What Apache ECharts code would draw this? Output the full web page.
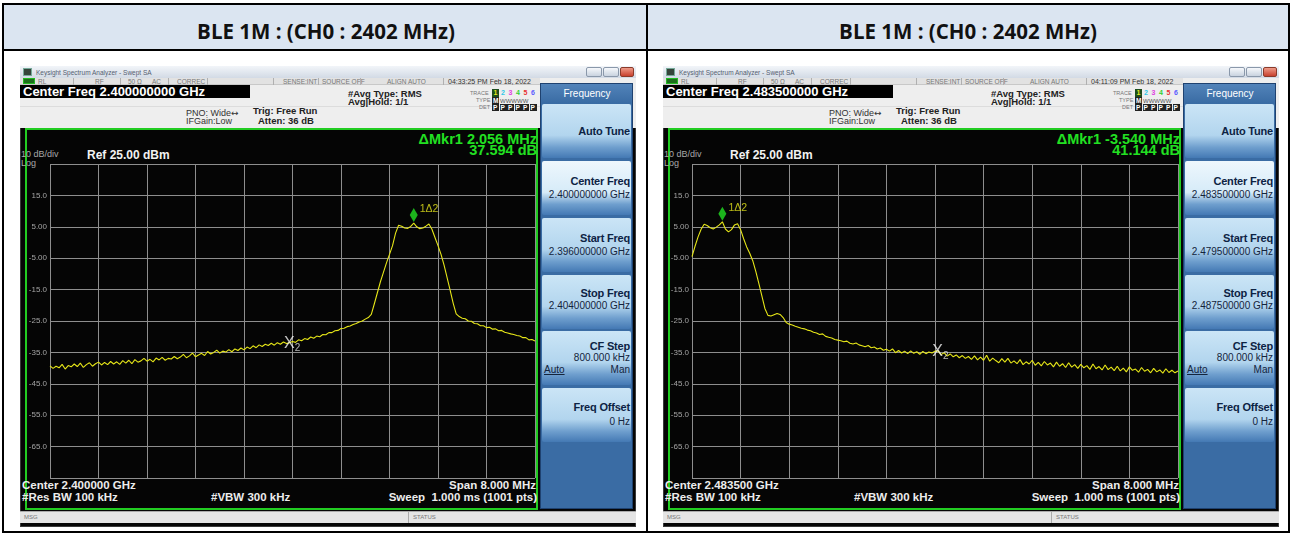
<!DOCTYPE html>
<html>
<head>
<meta charset="utf-8">
<title>BLE 1M spectrum</title>
<script src="https://cdn.jsdelivr.net/npm/echarts@6.0.0/dist/echarts.min.js"></script>
<style>
html,body{margin:0;padding:0}
body{width:1293px;height:536px;background:#fff;overflow:hidden;position:relative;font-family:"Liberation Sans",Arial,sans-serif}
#chart{position:absolute;left:0;top:0;width:1293px;height:536px;z-index:5}
#chrome div{position:absolute;box-sizing:border-box}
</style>
</head>
<body>
<div id="chrome"></div>
<div id="chart"></div>
<script>
// ---------------- data ----------------
const headerTitles = ['BLE 1M : (CH0 : 2402 MHz)', 'BLE 1M : (CH0 : 2402 MHz)'];
const centerFreqText = ['2.400000000 GHz', '2.483500000 GHz'];
const startFreqText = ['2.396000000 GHz', '2.479500000 GHz'];
const stopFreqText = ['2.404000000 GHz', '2.487500000 GHz'];
const centerShortText = ['Center 2.400000 GHz', 'Center 2.483500 GHz'];
const timeText = ['04:33:25 PM Feb 18, 2022', '04:11:09 PM Feb 18, 2022'];
const deltaFreqText = ['\u0394Mkr1 2.056 MHz', '\u0394Mkr1 -3.540 MHz'];
const deltaLevelText = ['37.594 dB', '41.144 dB'];
const spanMHz = 8;            // span of each display
const divMHz = 0.8;           // MHz per horizontal division
const pointStepMHz = 0.05;    // spacing of the trace points below
const refLevel = 25;          // dBm, top of display
const bottomLevel = -75;      // dBm, bottom of display
const yTickValues = [15, 5, -5, -15, -25, -35, -45, -55, -65];
const yTickLabels = ['15.0', '5.00', '-5.00', '-15.0', '-25.0', '-35.0', '-45.0', '-55.0', '-65.0'];
// trace levels (dBm), one every 0.05 MHz from the start frequency
const traceLeft = [
 -39.3,-40.1,-39.4,-39.9,-38.8,-40.3,-39.2,-39.6,-38.7,-39.5,
 -38.4,-39.8,-38.9,-38.3,-39.4,-38.6,-38.1,-39.0,-38.2,-38.9,
 -37.9,-38.7,-38.0,-38.8,-37.6,-38.4,-37.5,-38.6,-37.3,-38.1,
 -37.7,-36.9,-37.8,-37.2,-38.0,-36.8,-37.4,-36.6,-37.5,-36.9,
 -37.1,-36.3,-37.0,-36.5,-35.6,-36.7,-36.1,-35.2,-36.4,-35.8,
 -35.3,-36.0,-34.7,-35.5,-35.0,-34.3,-35.2,-34.6,-34.9,-34.1,
 -34.8,-33.9,-34.4,-33.6,-34.2,-33.3,-33.8,-32.9,-33.5,-32.6,
 -33.1,-32.4,-32.8,-32.1,-32.7,-31.9,-32.4,-31.7,-32.2,-31.9,
 -31.5,-31.8,-31.0,-31.3,-30.6,-30.9,-30.1,-30.5,-29.8,-30.0,
 -29.3,-29.4,-28.7,-28.7,-28.1,-28.0,-27.4,-27.3,-26.8,-26.6,
 -26.1,-25.8,-25.3,-25.0,-24.4,-23.9,-22.9,-19.5,-16.0,-12.5,
 -9.5,-6.5,-3.8,-1.0,3.0,5.5,5.2,4.6,4.5,5.1,
 6.2,5.0,4.4,4.6,5.2,5.9,4.2,1.6,-1.0,-3.8,
 -7.2,-11.2,-15.2,-19.3,-22.7,-23.6,-24.1,-24.3,-25.0,-25.1,
 -25.8,-25.9,-26.5,-26.5,-27.1,-27.0,-27.6,-27.5,-28.1,-28.0,
 -28.6,-28.8,-29.1,-29.3,-29.6,-29.8,-30.3,-30.3,-31.0,-30.9,
 -31.4
];
const traceRight = [
 -4.5,-1.2,1.8,4.2,5.8,5.4,4.7,4.3,4.9,5.6,
 6.6,4.3,3.4,4.1,5.6,6.0,4.1,1.2,-1.4,-3.4,
 -5.8,-9.2,-13.0,-17.0,-21.0,-23.2,-23.4,-23.0,-22.6,-22.9,
 -23.9,-25.5,-26.0,-26.3,-26.7,-27.0,-27.3,-27.5,-27.9,-28.1,
 -28.6,-28.8,-29.3,-29.1,-29.9,-30.2,-30.4,-30.9,-31.1,-31.3,
 -31.6,-31.4,-32.1,-32.3,-32.0,-32.6,-32.9,-33.2,-32.8,-33.5,
 -33.3,-33.9,-33.6,-34.3,-34.0,-34.6,-33.9,-35.1,-34.4,-35.2,
 -34.6,-35.4,-34.5,-35.3,-34.8,-35.6,-34.7,-35.4,-34.9,-35.2,
 -34.6,-34.5,-35.7,-35.1,-36.2,-35.5,-36.4,-35.8,-36.7,-36.0,
 -36.9,-36.3,-37.2,-36.1,-37.4,-36.5,-37.5,-35.9,-37.8,-36.8,
 -37.6,-38.3,-37.0,-38.1,-36.9,-38.4,-37.7,-38.6,-37.3,-38.9,
 -38.0,-38.7,-37.5,-39.1,-38.2,-39.3,-37.9,-39.0,-38.4,-39.6,
 -38.1,-39.4,-38.6,-39.8,-38.3,-39.7,-38.9,-40.1,-38.8,-39.9,
 -39.2,-40.4,-38.7,-40.2,-39.5,-40.6,-39.0,-40.5,-39.7,-40.8,
 -39.4,-40.9,-40.0,-41.2,-39.6,-40.7,-40.3,-41.3,-39.8,-41.0,
 -40.4,-41.5,-40.1,-41.2,-40.6,-41.6,-40.2,-41.4,-40.7,-41.5,
 -40.9
];
// markers: [MHz from start frequency, dBm]
const marker1Left = [6.0, 6.2];
const marker2Left = [3.944, -31.9];
const marker1Right = [0.5, 6.6];
const marker2Right = [4.04, -34.5];

// ---------------- page chrome ----------------
const root = document.getElementById('chrome');
function box(css) { const d = document.createElement('div'); d.style.cssText = css; root.appendChild(d); return d; }
function text(x, cy, s, size, css, align) {
  const tr = align === 'r' ? 'transform:translateX(-100%);' : align === 'c' ? 'transform:translateX(-50%);' : '';
  const d = box('left:' + x + 'px;top:' + (cy - size) + 'px;height:' + (size * 2) + 'px;line-height:' + (size * 2) + 'px;font-size:' + size + 'px;white-space:nowrap;' + tr + (css || ''));
  d.textContent = s; return d;
}

// table
box('left:2px;top:3px;width:1288px;height:47px;background:#dbe5f1');
box('left:2px;top:3px;width:1288px;height:530px;border:2px solid #000');
box('left:2px;top:49px;width:1288px;height:2px;background:#000');
box('left:646px;top:3px;width:2px;height:530px;background:#000');
text(326, 31, headerTitles[0], 20.5, 'font-family:"Open Sans";font-weight:700;color:#111', 'c');
text(968, 31, headerTitles[1], 20.5, 'font-family:"Open Sans";font-weight:700;color:#111', 'c');

const screenX = [20, 663];
const traceColors = ['#e8e820', '#30c8e8', '#e040e0', '#30d030', '#e83030', '#5a5aff'];

function screen(k) {
  const x0 = screenX[k];
  box('left:' + x0 + 'px;top:66px;width:616px;height:461px;background:#050505;border:1px solid #3a3a3a');
  // window title bar
  box('left:' + x0 + 'px;top:66px;width:616px;height:12px;background:linear-gradient(#f2f5f9,#d2dae5)');
  box('left:' + (x0 + 3) + 'px;top:68px;width:9px;height:8px;background:#34453a;border:1px solid #7a9');
  text(x0 + 16, 72, 'Keysight Spectrum Analyzer - Swept SA', 6.5, 'color:#556070');
  box('left:' + (x0 + 566) + 'px;top:67px;width:16px;height:10px;background:linear-gradient(#f6f8fb,#c9d3df);border:1px solid #8a98aa;border-radius:2px');
  box('left:' + (x0 + 583) + 'px;top:67px;width:16px;height:10px;background:linear-gradient(#f6f8fb,#c9d3df);border:1px solid #8a98aa;border-radius:2px');
  box('left:' + (x0 + 600) + 'px;top:67px;width:14px;height:10px;background:linear-gradient(#ee9a88,#c8412e);border:1px solid #8a3a2a;border-radius:2px');
  // status row + info area
  box('left:' + x0 + 'px;top:78px;width:616px;height:50px;background:#eeeeee');
  box('left:' + x0 + 'px;top:78px;width:520px;height:7px;background:#e2e2e2;border-bottom:1px solid #c8c8c8');
  box('left:' + (x0 + 3) + 'px;top:78px;width:12px;height:6px;background:#1c6e1c;border:1px solid #2b2');
  const st = [[18, 'RL'], [75, 'RF'], [108, '50 \u03a9'], [132, 'AC'], [157, 'CORREC'], [263, 'SENSE:INT'], [302, 'SOURCE OFF'], [367, 'ALIGN AUTO']];
  st.forEach(s => text(x0 + s[0], 81.5, s[1], 6.5, 'color:#777'));
  [53, 100, 148, 187, 253, 298, 340, 423].forEach(sx => box('left:' + (x0 + sx) + 'px;top:78px;width:1px;height:7px;background:#b0b0b0'));
  text(x0 + 428, 81.5, timeText[k], 7, 'color:#333');
  // centre-frequency box
  box('left:' + x0 + 'px;top:85px;width:230px;height:13px;background:#000');
  text(x0 + 3, 91.5, 'Center Freq ' + centerFreqText[k], 13, 'color:#fff;font-weight:700');
  box('left:' + x0 + 'px;top:106px;width:520px;height:1px;background:#dcdcdc');
  text(x0 + 166, 112.5, 'PNO: Wide', 9, 'color:#333');
  text(x0 + 211, 112.5, '\u2194', 9, 'color:#333;font-family:"DejaVu Sans"');
  text(x0 + 166, 121, 'IFGain:Low', 9, 'color:#333');
  text(x0 + 233, 110, 'Trig: Free Run', 9.5, 'color:#222;font-weight:700');
  text(x0 + 238, 120, 'Atten: 36 dB', 9.5, 'color:#222;font-weight:700');
  text(x0 + 328, 93, '#Avg Type: RMS', 9.5, 'color:#222;font-weight:700');
  text(x0 + 328, 101, 'Avg|Hold: 1/1', 9.5, 'color:#222;font-weight:700');
  text(x0 + 450, 93, 'TRACE', 5.5, 'color:#777');
  text(x0 + 456, 100.5, 'TYPE', 5.5, 'color:#777');
  text(x0 + 459, 107.5, 'DET', 5.5, 'color:#777');
  for (let i = 0; i < 6; i++) {
    const bx = x0 + 472 + i * 7.5;
    if (i === 0) box('left:' + bx + 'px;top:89px;width:7px;height:8px;background:#1d4d1d');
    text(bx + 1.5, 93, String(i + 1), 7, 'font-weight:700;color:' + traceColors[i]);
    box('left:' + bx + 'px;top:104px;width:7px;height:7px;background:#222');
    text(bx + 1, 107.5, 'P', 6.5, 'font-weight:700;color:#fff');
  }
  box('left:' + (x0 + 472) + 'px;top:97px;width:7px;height:7px;background:#222');
  text(x0 + 473, 100.5, 'M', 6.5, 'font-weight:700;color:#fff');
  text(x0 + 480, 100.5, 'WWWWW', 6, 'color:#555');
  // graticule frame
  box('left:' + (x0 + 5) + 'px;top:128px;width:513px;height:382px;border:2px solid #22cc22');
  text(x0 + 517, 139.5, deltaFreqText[k], 14.5, 'color:#22e022;font-weight:700', 'r');
  text(x0 + 517, 150, deltaLevelText[k], 14.5, 'color:#22e022;font-weight:700', 'r');
  text(x0 + 1, 154, '10 dB/div', 9, 'color:#a8a8a8');
  text(x0 + 1, 162.5, 'Log', 9, 'color:#a8a8a8');
  text(x0 + 67, 154.5, 'Ref 25.00 dBm', 12, 'color:#f2f2f2;font-weight:700');
  text(x0 + 2, 485, centerShortText[k], 11.5, 'color:#ececec;font-weight:700');
  text(x0 + 2, 497, '#Res BW 100 kHz', 11.5, 'color:#ececec;font-weight:700');
  text(x0 + 191, 497, '#VBW 300 kHz', 11.5, 'color:#ececec;font-weight:700');
  text(x0 + 516, 485, 'Span 8.000 MHz', 11.5, 'color:#ececec;font-weight:700', 'r');
  text(x0 + 517, 497, 'Sweep  1.000 ms (1001 pts)', 11.5, 'color:#ececec;font-weight:700;white-space:pre', 'r');
  // message bar
  box('left:' + x0 + 'px;top:511px;width:616px;height:12px;background:#e4e4e4;border-top:1px solid #aaa');
  text(x0 + 4, 517, 'MSG', 6, 'color:#777');
  box('left:' + (x0 + 388) + 'px;top:512px;width:1px;height:11px;background:#aaa');
  text(x0 + 393, 517, 'STATUS', 6, 'color:#777');
  // soft keys
  const px = x0 + 520;
  box('left:' + px + 'px;top:83px;width:93px;height:426px;background:#3a6ca4;border:1px solid #1f4270');
  box('left:' + (px + 1) + 'px;top:84px;width:91px;height:19px;background:linear-gradient(#5283b9,#3a6ca4)');
  text(px + 47, 93.5, 'Frequency', 10, 'color:#fff', 'c');
  const tops = [104, 161, 218, 275, 331, 388];
  tops.forEach((t, i) => {
    const bg = i === 1 ? '#eef7fd,#d6ebf8 58%' : '#cbe5f6,#b2d5ee 58%';
    box('left:' + (px + 2) + 'px;top:' + t + 'px;width:89px;height:54px;background:linear-gradient(' + bg + ',#6f9fce 80%,#4479b4);border-radius:2px');
  });
  const rx = px + 90, kc = 'color:#0d2344;font-weight:700;letter-spacing:-0.2px';
  text(rx, 131, 'Auto Tune', 11, kc, 'r');
  text(rx, 181, 'Center Freq', 11, kc, 'r');
  text(rx, 195, centerFreqText[k], 10, 'color:#14243c', 'r');
  text(rx, 238, 'Start Freq', 11, kc, 'r');
  text(rx, 252, startFreqText[k], 10, 'color:#14243c', 'r');
  text(rx, 293, 'Stop Freq', 11, kc, 'r');
  text(rx, 306, stopFreqText[k], 10, 'color:#14243c', 'r');
  text(rx, 346, 'CF Step', 11, kc, 'r');
  text(rx, 358, '800.000 kHz', 10, 'color:#14243c', 'r');
  text(px + 4, 369.5, 'Auto', 10, 'color:#14243c;text-decoration:underline');
  text(rx, 369.5, 'Man', 10, 'color:#14243c', 'r');
  text(rx, 407, 'Freq Offset', 11, kc, 'r');
  text(rx, 422, '0 Hz', 10, 'color:#14243c', 'r');
}
screen(0);
screen(1);

// ---------------- chart ----------------
const chart = echarts.init(document.getElementById('chart'), null, { renderer: 'canvas' });
const gridPos = [{ left: 50, top: 164, width: 485, height: 314 }, { left: 692, top: 164, width: 486, height: 314 }];
const traces = [traceLeft, traceRight];
const m1 = [marker1Left, marker1Right];
const m2 = [marker2Left, marker2Right];
const gridColor = '#8e8e8e';
const series = [];
[0, 1].forEach(i => {
  series.push({
    type: 'line', xAxisIndex: i, yAxisIndex: i, silent: true, z: 3,
    data: traces[i].map((v, j) => [j * pointStepMHz, v]),
    showSymbol: false, symbol: 'none',
    lineStyle: { color: '#e6e618', width: 1.1 }
  });
  series.push({
    type: 'scatter', xAxisIndex: i, yAxisIndex: i, silent: true, z: 5,
    data: [m1[i]], symbol: 'diamond', symbolSize: [8, 14], symbolOffset: [0, -8],
    itemStyle: { color: '#22e022' },
    label: { show: true, formatter: '1\u03942', position: 'right', distance: 2, offset: [0, -6], color: '#e6e61c', fontSize: 10.5, fontFamily: 'Liberation Sans' }
  });
  series.push({
    type: 'scatter', xAxisIndex: i, yAxisIndex: i, silent: true, z: 6,
    data: [m2[i]], symbol: 'circle', symbolSize: 1, itemStyle: { color: 'rgba(0,0,0,0)' },
    label: {
      show: true, position: 'inside', formatter: '{x|X}{s|2}', offset: [3, 1],
      rich: {
        x: { color: '#f4f4f4', fontSize: 16, fontFamily: 'Liberation Sans' },
        s: { color: '#e0e0e0', fontSize: 10, fontFamily: 'Liberation Sans', padding: [9, 0, 0, 0] }
      }
    }
  });
});
chart.setOption({
  animation: false,
  backgroundColor: 'transparent',
  grid: gridPos.map(g => Object.assign({ show: false }, g)),
  xAxis: [0, 1].map(i => ({
    type: 'value', gridIndex: i, min: 0, max: spanMHz, interval: divMHz,
    axisLine: { show: false }, axisTick: { show: false }, axisLabel: { show: false },
    splitLine: { show: true, lineStyle: { color: gridColor, width: 1 } }
  })),
  yAxis: [0, 1].map(i => ({
    type: 'value', gridIndex: i, min: bottomLevel, max: refLevel, interval: 5,
    axisLine: { show: false }, axisTick: { show: false },
    axisLabel: {
      color: '#a4a4a4', fontSize: 8, margin: 3, fontFamily: 'Liberation Sans',
      formatter: v => { const j = yTickValues.indexOf(v); return j >= 0 ? yTickLabels[j] : ''; }
    },
    splitLine: { show: true, lineStyle: { color: [gridColor, 'rgba(0,0,0,0)'], width: 1 } }
  })),
  series: series
});
</script>
</body>
</html>
